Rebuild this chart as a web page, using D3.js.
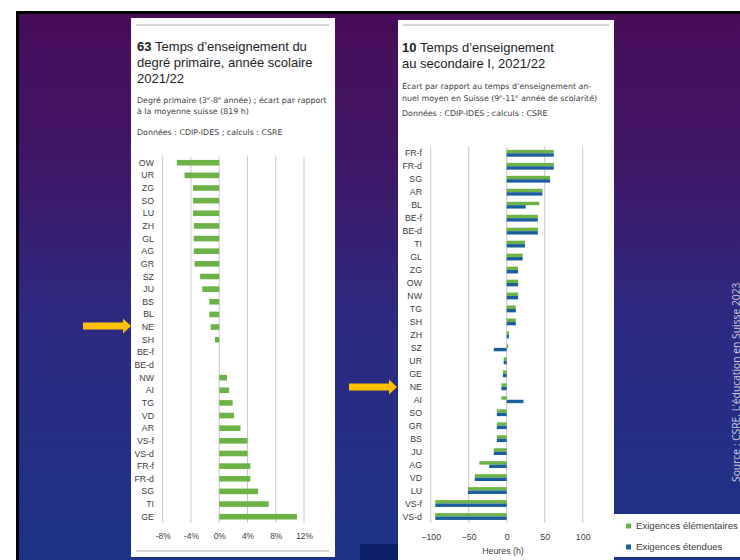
<!DOCTYPE html>
<html>
<head>
<meta charset="utf-8">
<script src="https://cdn.jsdelivr.net/npm/d3@7"></script>
<style>
  html, body { margin: 0; padding: 0; background: #fff; }
  svg { display: block; font-family: "Liberation Sans", Arial, sans-serif; }
</style>
</head>
<body>
<div class="container"></div>
<script>
// chart 63 : primary school, % gap to swiss mean
const leftCats = ["OW","UR","ZG","SO","LU","ZH","GL","AG","GR","SZ","JU","BS","BL","NE","SH","BE-f","BE-d","NW","AI","TG","VD","AR","VS-f","VS-d","FR-f","FR-d","SG","TI","GE"]
const leftVals = [-6.0,-4.9,-3.7,-3.7,-3.7,-3.6,-3.6,-3.6,-3.5,-2.7,-2.4,-1.4,-1.4,-1.2,-0.6,0,0,1.1,1.4,1.9,2.1,3.0,4.0,4.0,4.4,4.4,5.5,7.0,11.0]
const leftTicks = [-8,-4,0,4,8,12]

// chart 10 : secondary I, hours gap
const rightCats = ["FR-f","FR-d","SG","AR","BL","BE-f","BE-d","TI","GL","ZG","OW","NW","TG","SH","ZH","SZ","UR","GE","NE","AI","SO","GR","BS","JU","AG","VD","LU","VS-f","VS-d"]
const elemVals = [62,62,57,47,43,41,41,24,21,15,15,15,12,12,3,2,-4,-5,-7,-7,-13,-13,-13,-17,-36,-42,-51,-94,-94]
const extVals = [62,62,57,47,25,41,41,24,21,15,15,15,12,12,3,-17,-4,-5,-7,22,-13,-13,-13,-17,-23,-42,-51,-94,-94]
const rightTicks = [-100,-50,0,50,100]

const seriesNames = ["Exigences élémentaires","Exigences étendues"]

const width = 740, height = 560
const green = "#6bb344", blue = "#1b5e9e"
const textCol = "#3c3c3c"

const svg = d3.select(".container").append("svg")
    .attr("width", width)
    .attr("height", height)

// background
const defs = svg.append("defs")
const grad = defs.append("linearGradient").attr("id", "bg")
    .attr("x1", 0).attr("y1", 0).attr("x2", 0).attr("y2", 1)
grad.selectAll("stop")
    .data([[0, "#480c58"], [0.3, "#3e1868"], [0.55, "#2d2a80"], [1, "#1c3388"]])
    .join("stop")
    .attr("offset", d => d[0])
    .attr("stop-color", d => d[1])

svg.append("rect").attr("x", 16).attr("y", 11).attr("width", width - 16).attr("height", height - 11).attr("fill", "#000")
svg.append("rect").attr("x", 19).attr("y", 14).attr("width", width - 19).attr("height", height - 14).attr("fill", "url(#bg)")
svg.append("rect").attr("x", 360).attr("y", 544).attr("width", 38).attr("height", 16).attr("fill", "#0b2066")

// panels
svg.append("rect").attr("x", 131).attr("y", 18).attr("width", 204).attr("height", 539).attr("fill", "#fff")
svg.append("rect").attr("x", 398).attr("y", 20).attr("width", 216).attr("height", 540).attr("fill", "#fff")
svg.append("line").attr("x1", 136).attr("x2", 329).attr("y1", 25).attr("y2", 25).attr("stroke", "#c9c9c9").attr("stroke-width", 1.5)
svg.append("line").attr("x1", 136).attr("x2", 329).attr("y1", 551).attr("y2", 551).attr("stroke", "#c9c9c9").attr("stroke-width", 1.5)
svg.append("line").attr("x1", 403).attr("x2", 609).attr("y1", 25).attr("y2", 25).attr("stroke", "#c9c9c9").attr("stroke-width", 1.5)

// titles
function title(x, y, num, lines) {
    const t = svg.append("text").attr("x", x).attr("y", y).attr("fill", "#222").attr("font-size", 13)
    lines.forEach((l, i) => {
        const ts = t.append("tspan").attr("x", x).attr("dy", i === 0 ? 0 : 16.3)
        if (i === 0) {
            ts.append("tspan").attr("font-weight", "bold").text(num)
            ts.append("tspan").text("\u00a0" + l)
        } else ts.text(l)
    })
}
title(137, 50.5, "63", ["Temps d’enseignement du", "degré primaire, année scolaire", "2021/22"])
title(402, 51.5, "10", ["Temps d’enseignement", "au secondaire I, 2021/22"])

// small text, {s} parts are superscripts
function small(x, y, parts) {
    const t = svg.append("text").attr("x", x).attr("y", y).attr("fill", textCol)
        .attr("font-size", 7.9).attr("font-family", "DejaVu Sans, sans-serif")
    parts.forEach(p => {
        if (typeof p === "string") t.append("tspan").text(p)
        else t.append("tspan").attr("font-size", 5).attr("baseline-shift", "super").text(p.s)
    })
}
small(137, 103, ["Degré primaire (3", {s: "e"}, "-8", {s: "e"}, " année) ; écart par rapport"])
small(137, 114, ["à la moyenne suisse (819 h)"])
small(137, 134.5, ["Données : CDIP-IDES ; calculs : CSRE"])
small(402, 88.5, ["Écart par rapport au temps d’enseignement an-"])
small(402, 101, ["nuel moyen en Suisse (9", {s: "e"}, "-11", {s: "e"}, " année de scolarité)"])
small(402, 115.5, ["Données : CDIP-IDES ; calculs : CSRE"])

// left chart
const xL = d3.scaleLinear().domain([-8, 12]).range([162.7, 304])
const yL = d3.scaleBand().domain(leftCats).range([156.4, 523]).padding(0)

const gL = svg.append("g")
gL.append("g").selectAll("line").data(leftTicks).join("line")
    .attr("x1", d => xL(d)).attr("x2", d => xL(d))
    .attr("y1", yL.range()[0]).attr("y2", yL.range()[1])
    .attr("stroke", "#c8c8c8").attr("stroke-width", 1)
gL.append("g").selectAll("rect").data(leftVals).join("rect")
    .attr("x", d => xL(Math.min(0, d)))
    .attr("width", d => Math.abs(xL(d) - xL(0)))
    .attr("y", (d, i) => yL(leftCats[i]) + yL.bandwidth() / 2 - 2.8)
    .attr("height", 5.6)
    .attr("fill", green)
gL.append("g").selectAll("text").data(leftCats).join("text")
    .attr("x", 154).attr("y", d => yL(d) + yL.bandwidth() / 2)
    .attr("dy", "0.35em").attr("text-anchor", "end")
    .attr("font-size", 8.8).attr("fill", textCol)
    .text(d => d)
gL.append("g")
    .attr("transform", "translate(0,530)")
    .call(d3.axisBottom(xL).tickValues(leftTicks).tickSize(0).tickFormat(d => d + "%"))
    .call(g => g.select(".domain").remove())
    .call(g => g.selectAll("text").attr("font-size", 8.4).attr("fill", textCol).attr("font-family", null))

// right chart
const xR = d3.scaleLinear().domain([-100, 100]).range([430.7, 582.7])
const yR = d3.scaleBand().domain(rightCats).range([146.8, 523]).padding(0)
const barH = 3.4

const gR = svg.append("g")
gR.append("g").selectAll("line").data(rightTicks).join("line")
    .attr("x1", d => xR(d)).attr("x2", d => xR(d))
    .attr("y1", yR.range()[0]).attr("y2", yR.range()[1])
    .attr("stroke", "#c8c8c8").attr("stroke-width", 1)
gR.append("g").selectAll("rect").data(elemVals).join("rect")
    .attr("x", d => xR(Math.min(0, d)))
    .attr("width", d => Math.abs(xR(d) - xR(0)))
    .attr("y", (d, i) => yR(rightCats[i]) + yR.bandwidth() / 2 - barH)
    .attr("height", barH)
    .attr("fill", green)
gR.append("g").selectAll("rect").data(extVals).join("rect")
    .attr("x", d => xR(Math.min(0, d)))
    .attr("width", d => Math.abs(xR(d) - xR(0)))
    .attr("y", (d, i) => yR(rightCats[i]) + yR.bandwidth() / 2)
    .attr("height", barH)
    .attr("fill", blue)
gR.append("g").selectAll("text").data(rightCats).join("text")
    .attr("x", 422).attr("y", d => yR(d) + yR.bandwidth() / 2)
    .attr("dy", "0.35em").attr("text-anchor", "end")
    .attr("font-size", 8.8).attr("fill", textCol)
    .text(d => d)
gR.append("g")
    .attr("transform", "translate(0,531)")
    .call(d3.axisBottom(xR).tickValues(rightTicks).tickSize(0).tickFormat(d3.format("d")))
    .call(g => g.select(".domain").remove())
    .call(g => g.selectAll("text").attr("font-size", 8.8).attr("fill", textCol).attr("font-family", null))
svg.append("text").attr("x", 503).attr("y", 554).attr("text-anchor", "middle")
    .attr("font-size", 8.8).attr("fill", textCol).text("Heures (h)")

// legend
svg.append("rect").attr("x", 614).attr("y", 514).attr("width", 126).attr("height", 43).attr("fill", "#fff")
const lg = svg.append("g").selectAll("g").data(seriesNames).join("g")
    .attr("transform", (d, i) => `translate(626,${526 + i * 21})`)
lg.append("rect").attr("x", 0).attr("y", -2.5).attr("width", 5).attr("height", 5)
    .attr("fill", (d, i) => i === 0 ? green : blue)
lg.append("text").attr("x", 10).attr("dy", "0.35em").attr("font-size", 9.6).attr("fill", textCol).text(d => d)

// arrows
function arrow(x0, x1, y) {
    svg.append("path")
        .attr("d", `M${x0},${y - 3.5}H${x1 - 8}V${y - 7.5}L${x1},${y}L${x1 - 8},${y + 7.5}V${y + 3.5}H${x0}Z`)
        .attr("fill", "#ffc000")
}
arrow(83, 131, 326)
arrow(349, 397, 387)

// source, rotated on the right edge
svg.append("text")
    .attr("transform", "translate(740,482) rotate(-90)")
    .attr("font-size", 10.3).attr("fill", "rgba(255,255,255,0.75)")
    .attr("font-family", "Open Sans, sans-serif")
    .text("Source : CSRE, L’éducation en Suisse 2023")
</script>
</body>
</html>
